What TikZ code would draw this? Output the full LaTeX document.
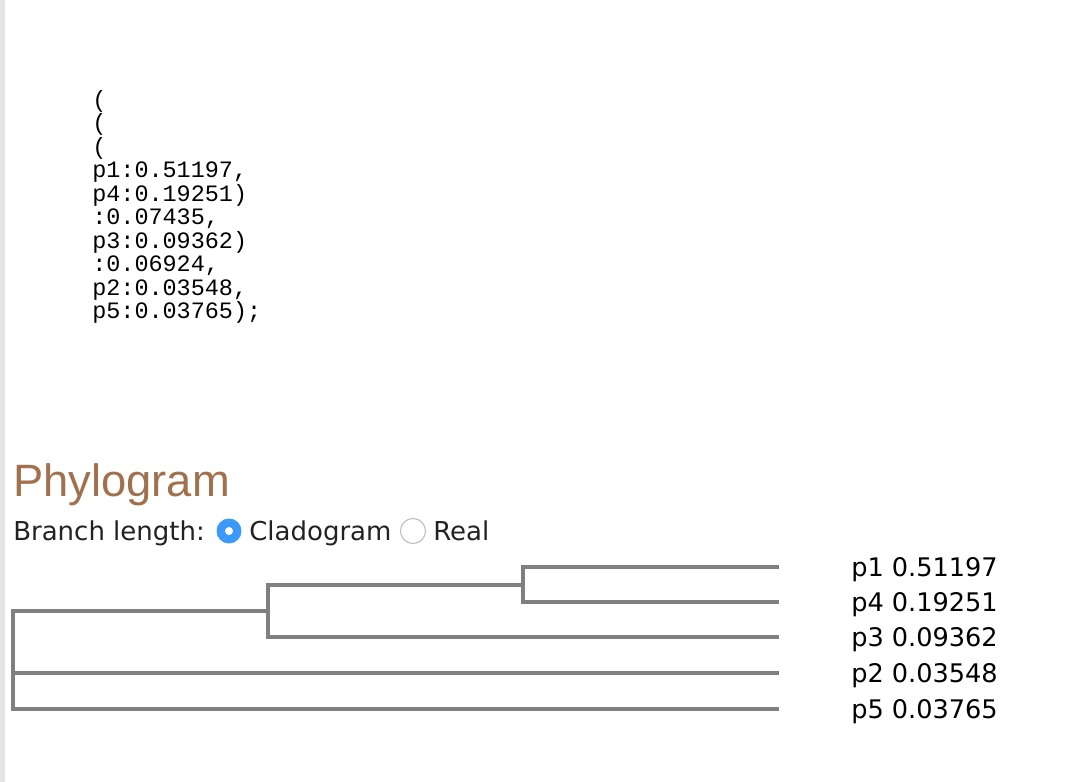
\documentclass[tikz,border=0pt]{standalone}
\usepackage{fontspec}
\setmainfont{DejaVu Sans}
\newfontfamily\codefont{Liberation Mono}
\newfontfamily\headfont{Liberation Sans}
\definecolor{branchGray}{RGB}{128,128,128}
\definecolor{headBrown}{RGB}{160,113,76}
\definecolor{radioBlue}{RGB}{59,153,252}
\definecolor{darkText}{RGB}{34,34,34}
\definecolor{edgeGray}{RGB}{228,228,228}
\usetikzlibrary{positioning,calc}

\begin{document}
\begin{tikzpicture}[x=0.75pt,y=-0.75pt,
    codeline/.style={anchor=base west,inner sep=0pt,font=\codefont\fontsize{17.6}{18}\selectfont,text=black},
    uitext/.style={anchor=base west,inner sep=0pt,font=\fontsize{19.5}{22}\selectfont,text=darkText},
    leaflabel/.style={anchor=base west,inner sep=0pt,font=\fontsize{19.2}{22}\selectfont,text=black},
    branch/.style={draw=branchGray,line width=3pt},
    radio/.style={circle,minimum size=18.75pt,inner sep=0pt}]

    \fill[white] (0,0) rectangle (1072,782);
    \useasboundingbox (0,0) rectangle (1072,782);
    \fill[edgeGray] (0,0) rectangle (5,782);

    % newick string
    \foreach \txt [count=\i from 0] in {{(},{(},{(},{p1:0.51197,},{p4:0.19251)},{:0.07435,},{p3:0.09362)},{:0.06924,},{p2:0.03548,},{p5:0.03765);}}
        \node[codeline] (nw\i) at (92,107+23.5*\i) {\txt};

    % heading and controls
    \node[anchor=base west,inner sep=0pt,font=\headfont\fontsize{34}{40}\selectfont,text=headBrown] (title) at (13,496) {Phylogram};
    \node[uitext] (branchlen) at (13,540) {Branch length:};
    \node[radio,fill=radioBlue] (cladoRadio) at (229,531) {};
    \node[circle,fill=white,minimum size=6pt,inner sep=0pt] (cladoDot) at (cladoRadio) {};
    \node[uitext] (cladoLabel) at (249,540) {Cladogram};
    \node[radio,draw=gray!55,fill=white,line width=0.75pt] (realRadio) at (413,531) {};
    \node[uitext] (realLabel) at (433,540) {Real};

    % leaves
    \node[leaflabel] (p1) at (851,576.5) {p1 0.51197};
    \node[leaflabel] (p4) at (851,611.5) {p4 0.19251};
    \node[leaflabel] (p3) at (851,646.5) {p3 0.09362};
    \node[leaflabel] (p2) at (851,682.5) {p2 0.03548};
    \node[leaflabel] (p5) at (851,718.5) {p5 0.03765};
    \coordinate (p1end) at (779,567);
    \coordinate (p4end) at (779,602);
    \coordinate (p3end) at (779,637);
    \coordinate (p2end) at (779,673);
    \coordinate (p5end) at (779,709);

    % inner nodes
    \coordinate (root) at (13,660);
    \coordinate (cladeA) at (268,611);
    \coordinate (cladeB) at (523,584.5);

    \draw[branch] (root) |- (cladeA);
    \draw[branch] (root) |- (p2end);
    \draw[branch] (root) |- (p5end);
    \draw[branch] (cladeA) |- (cladeB);
    \draw[branch] (cladeA) |- (p3end);
    \draw[branch] (cladeB) |- (p1end);
    \draw[branch] (cladeB) |- (p4end);
\end{tikzpicture}
\end{document}
